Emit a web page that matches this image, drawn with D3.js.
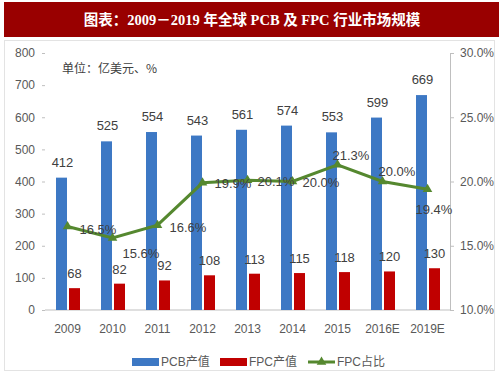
<!DOCTYPE html>
<html>
<head>
<meta charset="utf-8">
<script src="https://cdn.jsdelivr.net/npm/d3@7"></script>
<style>
  body { margin: 0; background: #fff; }
  svg { display: block; }
</style>
</head>
<body>
<svg id="chart"></svg>
<script>
const years = ["2009", "2010", "2011", "2012", "2013", "2014", "2015", "2016E", "2019E"];
const pcbValues = [412, 525, 554, 543, 561, 574, 553, 599, 669];
const fpcValues = [68, 82, 92, 108, 113, 115, 118, 120, 130];
const fpcShare = [16.5, 15.6, 16.6, 19.9, 20.1, 20.0, 21.3, 20.0, 19.4];
const leftTicks = [0, 100, 200, 300, 400, 500, 600, 700, 800];
const rightTicks = [10, 15, 20, 25, 30];

const color = {
  pcb: "#3d78c4",
  fpc: "#c00000",
  share: "#55882f",
  text: "#404040",
  axis: "#595959",
};

const size = { width: 503, height: 378 };
const margin = { top: 53, bottom: 68, left: 45, right: 53 };
const latin = "'Liberation Sans', Arial, 'Noto Sans CJK SC', sans-serif";

const svg = d3.select("#chart").attr("width", size.width).attr("height", size.height);

// title bar
svg.append("rect")
  .attr("x", 4).attr("y", 2).attr("width", 495).attr("height", 35)
  .attr("fill", "#990000");
svg.append("text")
  .attr("x", 252).attr("y", 20)
  .attr("text-anchor", "middle")
  .attr("dominant-baseline", "central")
  .attr("fill", "#fff")
  .style("font-family", "'Liberation Serif', 'DejaVu Serif', 'Noto Sans CJK SC', serif")
  .style("font-weight", "bold")
  .style("font-size", "14.5px")
  .text("图表：2009－2019 年全球 PCB 及 FPC 行业市场规模");

// light frame around the chart area
svg.append("rect")
  .attr("x", 4.5).attr("y", 40.5).attr("width", 490).attr("height", 330)
  .attr("fill", "none").attr("stroke", "#e3e3e3");

const x = d3.scaleBand()
  .domain(years)
  .range([margin.left, size.width - margin.right]);

const y = d3.scaleLinear()
  .domain([0, 800])
  .range([size.height - margin.bottom, margin.top]);

const y2 = d3.scaleLinear()
  .domain([10, 30])
  .range([size.height - margin.bottom, margin.top]);

// left axis (ticks only)
const leftAxis = svg.append("g")
  .attr("transform", `translate(${margin.left},0)`)
  .call(d3.axisLeft(y).tickValues(leftTicks).tickSize(3).tickPadding(7));
leftAxis.select(".domain").remove();
leftAxis.selectAll("line").attr("stroke", "#bfbfbf");
leftAxis.selectAll("text")
  .attr("fill", color.axis)
  .style("font-family", latin)
  .style("font-size", "12px");

// right axis
const rightAxis = svg.append("g")
  .attr("transform", `translate(${size.width - margin.right},0)`)
  .call(d3.axisRight(y2).tickValues(rightTicks).tickSize(4).tickPadding(6)
    .tickFormat((d) => d.toFixed(1) + "%"));
rightAxis.selectAll(".domain, line").attr("stroke", "#bfbfbf");
rightAxis.selectAll("text")
  .attr("fill", color.axis)
  .style("font-family", latin)
  .style("font-size", "12px");

// baseline
svg.append("line")
  .attr("x1", margin.left).attr("x2", size.width - margin.right)
  .attr("y1", y(0)).attr("y2", y(0))
  .attr("stroke", "#bfbfbf");

// category labels
svg.append("g")
  .selectAll("text")
  .data(years)
  .join("text")
  .attr("x", (d) => x(d) + x.bandwidth() / 2)
  .attr("y", y(0) + 23)
  .attr("text-anchor", "middle")
  .attr("fill", color.axis)
  .style("font-family", latin)
  .style("font-size", "12px")
  .text((d) => d);

const barW = 11;

// PCB bars + labels
svg.append("g")
  .selectAll("rect")
  .data(pcbValues)
  .join("rect")
  .attr("x", (d, i) => x(years[i]) + x.bandwidth() / 2 - barW - 0.5)
  .attr("y", (d) => y(d))
  .attr("width", barW)
  .attr("height", (d) => y(0) - y(d))
  .attr("fill", color.pcb);

svg.append("g")
  .selectAll("text")
  .data(pcbValues)
  .join("text")
  .attr("x", (d, i) => x(years[i]) + x.bandwidth() / 2 - 5)
  .attr("y", (d) => y(d) - 11)
  .attr("text-anchor", "middle")
  .attr("fill", color.text)
  .style("font-family", latin)
  .style("font-size", "13px")
  .text((d) => d);

// FPC bars + labels
svg.append("g")
  .selectAll("rect")
  .data(fpcValues)
  .join("rect")
  .attr("x", (d, i) => x(years[i]) + x.bandwidth() / 2 + 1.5)
  .attr("y", (d) => y(d))
  .attr("width", barW)
  .attr("height", (d) => y(0) - y(d))
  .attr("fill", color.fpc);

svg.append("g")
  .selectAll("text")
  .data(fpcValues)
  .join("text")
  .attr("x", (d, i) => x(years[i]) + x.bandwidth() / 2 + 7)
  .attr("y", (d) => y(d) - 10)
  .attr("text-anchor", "middle")
  .attr("fill", color.text)
  .style("font-family", latin)
  .style("font-size", "13px")
  .text((d) => d);

// FPC share line
const shareLine = d3.line()
  .x((d, i) => x(years[i]) + x.bandwidth() / 2)
  .y((d) => y2(d));

svg.append("path")
  .datum(fpcShare)
  .attr("d", shareLine)
  .attr("fill", "none")
  .attr("stroke", color.share)
  .attr("stroke-width", 3);

const tri = d3.symbol().type(d3.symbolTriangle).size(40);
svg.append("g")
  .selectAll("path")
  .data(fpcShare)
  .join("path")
  .attr("d", tri)
  .attr("transform", (d, i) => `translate(${x(years[i]) + x.bandwidth() / 2},${y2(d)})`)
  .attr("fill", color.share);

// label offsets (dx, dy) relative to each point
const shareLabelOffset = [
  [12, 3], [10, 15], [12, 2], [12, 1], [10, 1], [10, 1], [-5, -9], [-4, -10], [-12, 20],
];
svg.append("g")
  .selectAll("text")
  .data(fpcShare)
  .join("text")
  .attr("x", (d, i) => x(years[i]) + x.bandwidth() / 2 + shareLabelOffset[i][0])
  .attr("y", (d, i) => y2(d) + shareLabelOffset[i][1])
  .attr("dominant-baseline", "central")
  .attr("fill", color.text)
  .style("font-family", latin)
  .style("font-size", "13px")
  .text((d) => d.toFixed(1) + "%");

// unit note
svg.append("text")
  .attr("x", 62).attr("y", 67)
  .attr("dominant-baseline", "central")
  .attr("fill", color.text)
  .style("font-family", "'Noto Sans CJK SC', sans-serif")
  .style("font-size", "12px")
  .text("单位：亿美元、%");

// legend
const legend = svg.append("g").attr("transform", "translate(0,362)");
const legendItems = [
  { label: "PCB产值", type: "rect", fill: color.pcb, x: 132 },
  { label: "FPC产值", type: "rect", fill: color.fpc, x: 220 },
  { label: "FPC占比", type: "line", fill: color.share, x: 308 },
];
legendItems.forEach((d) => {
  if (d.type === "rect") {
    legend.append("rect")
      .attr("x", d.x).attr("y", -4).attr("width", 27).attr("height", 8)
      .attr("fill", d.fill);
  } else {
    legend.append("line")
      .attr("x1", d.x).attr("x2", d.x + 27).attr("y1", 0).attr("y2", 0)
      .attr("stroke", d.fill).attr("stroke-width", 3);
    legend.append("path")
      .attr("d", tri)
      .attr("transform", `translate(${d.x + 13.5},0)`)
      .attr("fill", d.fill);
  }
  legend.append("text")
    .attr("x", d.x + 29).attr("y", 0)
    .attr("dominant-baseline", "central")
    .attr("fill", color.axis)
    .style("font-family", latin)
    .style("font-size", "12px")
    .text(d.label);
});
</script>
</body>
</html>
